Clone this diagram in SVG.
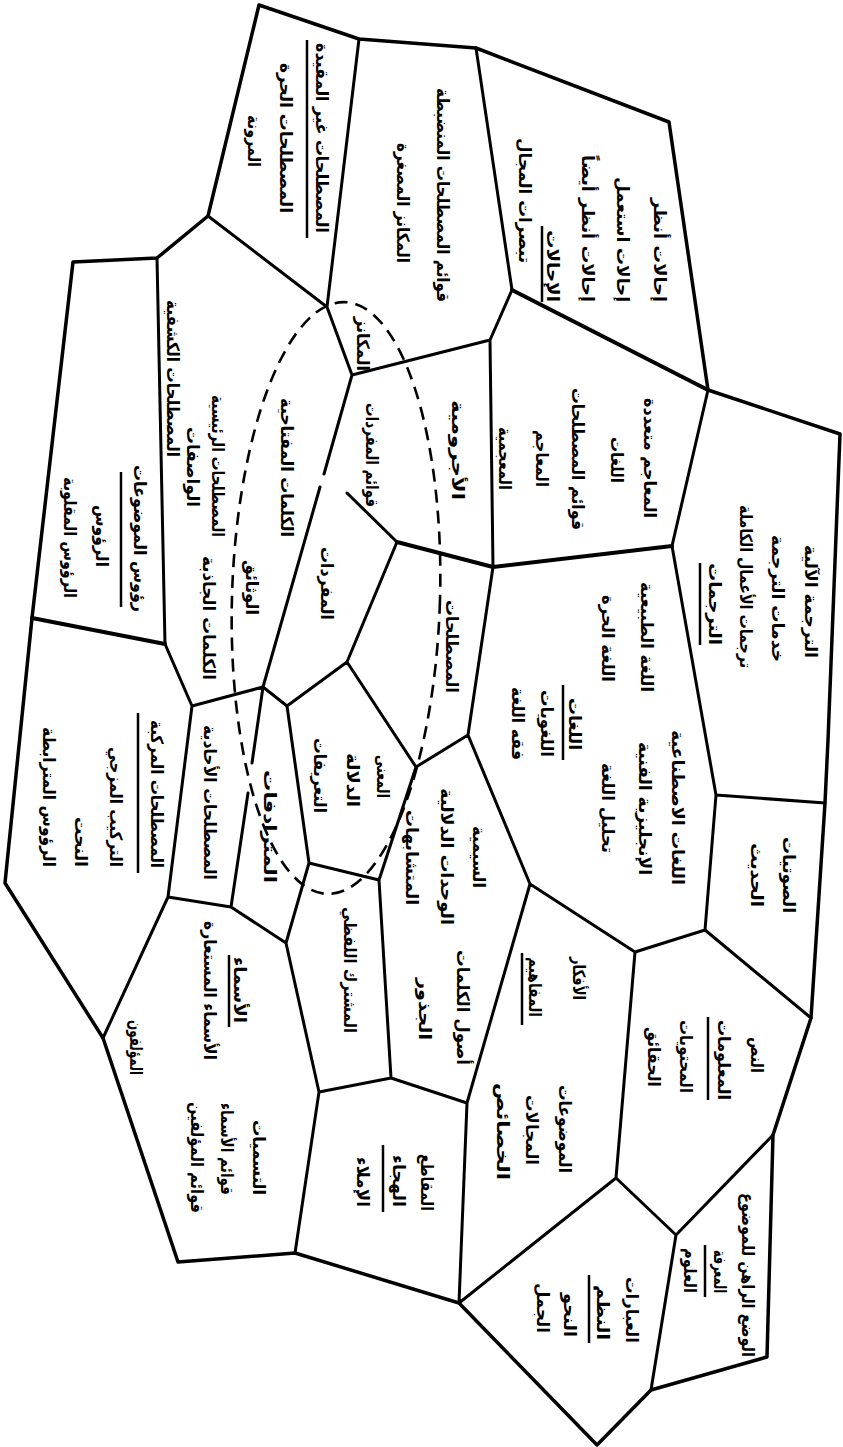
<svg xmlns="http://www.w3.org/2000/svg" width="843" height="1447" viewBox="0 0 843 1447">
<style>
.t{font-family:"DejaVu Sans",sans-serif;font-size:17px;font-weight:bold;fill:#000;text-anchor:middle;dominant-baseline:central}
.u{stroke:#000;stroke-width:2.5;fill:none}
.b{fill:none;stroke:#000;stroke-width:3;stroke-linejoin:round;stroke-linecap:round}
.o{stroke-width:3.5}
.k{stroke-width:4}
.e{fill:none;stroke:#000;stroke-width:2.6;stroke-dasharray:13 8}
</style>
<rect width="843" height="1447" fill="#fff"/>
<g id="connectors">
<path class="b o" d="M259,5 L359,39 L476,48 L669,122 L708,390 L840,434 L828,740 L825,803 L811,1018 L773,1135 L767,1357 L651,1390 L597,1445 L459,1303 L295,1253 L178,1262 L103,1038 L5,883 L32,618 L73,262 L157,258 L208,216 Z"/>
<path class="b" d="M359,39 L327,307 M476,48 L512,290 M512,290 L490,340 M490,340 L352,375 M490,340 L493,567 M208,216 L327,307 M327,307 L352,375 M157,258 L165,644 M165,644 L192,706 M192,706 L263,687 M352,375 L324,474 M320,487 L263,687 M263,687 L287,706 M287,706 L347,662 M347,662 L397,542 M347,493 L397,542 M672,546 L708,390 M672,546 L716,795 M493,567 L468,735 M468,735 L416,767 M347,662 L416,767 M468,735 L530,884 M530,884 L635,952 M635,952 L705,930 M705,930 L716,795 M716,795 L825,803 M705,930 L811,1018 M416,767 L379,880 M379,880 L309,863 M309,863 L287,706 M309,863 L286,943 M286,943 L231,907 M263,687 L252,763 M248,793 L231,907 M231,907 L168,897 M168,897 L192,706 M168,897 L103,1038 M379,880 L391,1078 M391,1078 L319,1092 M391,1078 L467,1103 M286,943 L319,1092 M319,1092 L295,1253 M530,884 L467,1103 M467,1103 L459,1303 M635,952 L616,1178 M616,1178 L459,1303 M616,1178 L676,1235 M676,1235 L773,1135 M676,1235 L651,1390"/>
<path class="b k" d="M512,290 L708,390 M32,618 L165,644 M397,542 L493,567 L672,546"/>
</g>
<g id="ellipse">
<ellipse class="e" cx="336" cy="598" rx="104" ry="296" transform="rotate(1.7 336 598)"/>
</g>
<g id="cell-references">
<text class="t" transform="translate(660,250) rotate(90)" textLength="104" lengthAdjust="spacingAndGlyphs">إحالات أنظر</text>
<text class="t" transform="translate(623,239.5) rotate(90)" textLength="125" lengthAdjust="spacingAndGlyphs">إحالات استعمل</text>
<text class="t" transform="translate(588,228.5) rotate(90)" textLength="147" lengthAdjust="spacingAndGlyphs">إحالات أنظر أيضاً</text>
<text class="t" transform="translate(553,266) rotate(90)" textLength="72" lengthAdjust="spacingAndGlyphs">الإحالات</text>
<line class="u" x1="542" y1="226" x2="542" y2="302"/>
<text class="t" transform="translate(525,200.5) rotate(90)" textLength="125" lengthAdjust="spacingAndGlyphs">تبصرات المجال</text>
</g>
<g id="cell-controlled">
<text class="t" transform="translate(443,195) rotate(90)" textLength="214" lengthAdjust="spacingAndGlyphs">قوائم المصطلحات المنضبطة</text>
<text class="t" transform="translate(403,203) rotate(90)" textLength="120" lengthAdjust="spacingAndGlyphs">المكانز المصغرة</text>
<text class="t" transform="translate(363,344) rotate(90)" textLength="54" lengthAdjust="spacingAndGlyphs">المكانز</text>
</g>
<g id="cell-uncontrolled">
<text class="t" transform="translate(322,138) rotate(90)" textLength="190" lengthAdjust="spacingAndGlyphs">المصطلحات غير المقيدة</text>
<line class="u" x1="307" y1="40" x2="307" y2="238"/>
<text class="t" transform="translate(286,138) rotate(90)" textLength="150" lengthAdjust="spacingAndGlyphs">المصطلحات الحرة</text>
<text class="t" transform="translate(254,141) rotate(90)" textLength="52" lengthAdjust="spacingAndGlyphs">المرونة</text>
</g>
<g id="cell-subject-headings">
<text class="t" transform="translate(140,538.5) rotate(90)" textLength="147" lengthAdjust="spacingAndGlyphs">رؤوس الموضوعات</text>
<line class="u" x1="121" y1="472" x2="121" y2="607"/>
<text class="t" transform="translate(102,536) rotate(90)" textLength="62" lengthAdjust="spacingAndGlyphs">الرؤوس</text>
<text class="t" transform="translate(70,537.5) rotate(90)" textLength="121" lengthAdjust="spacingAndGlyphs">الرؤوس المقلوبة</text>
</g>
<g id="cell-index-terms">
<text class="t" transform="translate(173,378.5) rotate(90)" textLength="157" lengthAdjust="spacingAndGlyphs">المصطلحات الكشفية</text>
<text class="t" transform="translate(218,466) rotate(90)" textLength="142" lengthAdjust="spacingAndGlyphs">المصطلحات الرئيسية</text>
<text class="t" transform="translate(193,467) rotate(90)" textLength="80" lengthAdjust="spacingAndGlyphs">الواصفات</text>
<text class="t" transform="translate(209,618) rotate(90)" textLength="124" lengthAdjust="spacingAndGlyphs">الكلمات الجاذبة</text>
<text class="t" transform="translate(252,587.5) rotate(90)" textLength="55" lengthAdjust="spacingAndGlyphs">الوثائق</text>
<text class="t" transform="translate(287,467.5) rotate(90)" textLength="139" lengthAdjust="spacingAndGlyphs">الكلمات المفتاحية</text>
</g>
<g id="cell-vocabulary">
<text class="t" transform="translate(372,455) rotate(90)" textLength="104" lengthAdjust="spacingAndGlyphs">قوائم المفردات</text>
<text class="t" transform="translate(327,583.5) rotate(90)" textLength="73" lengthAdjust="spacingAndGlyphs">المفردات</text>
</g>
<g id="cell-grammar">
<text class="t" transform="translate(458,450) rotate(90)" textLength="100" lengthAdjust="spacingAndGlyphs">الأجرومية</text>
</g>
<g id="cell-terms">
<text class="t" transform="translate(452,646.5) rotate(90)" textLength="93" lengthAdjust="spacingAndGlyphs">المصطلحات</text>
</g>
<g id="cell-dictionaries">
<text class="t" transform="translate(650,458) rotate(90)" textLength="120" lengthAdjust="spacingAndGlyphs">المعاجم متعددة</text>
<text class="t" transform="translate(617,460) rotate(90)" textLength="46" lengthAdjust="spacingAndGlyphs">اللغات</text>
<text class="t" transform="translate(578,459) rotate(90)" textLength="142" lengthAdjust="spacingAndGlyphs">قوائم المصطلحات</text>
<text class="t" transform="translate(542,458.5) rotate(90)" textLength="57" lengthAdjust="spacingAndGlyphs">المعاجم</text>
<text class="t" transform="translate(505,458.5) rotate(90)" textLength="63" lengthAdjust="spacingAndGlyphs">المعجمية</text>
</g>
<g id="cell-translation">
<text class="t" transform="translate(811,601.5) rotate(90)" textLength="113" lengthAdjust="spacingAndGlyphs">الترجمة الآلية</text>
<text class="t" transform="translate(778,598.5) rotate(90)" textLength="127" lengthAdjust="spacingAndGlyphs">خدمات الترجمة</text>
<text class="t" transform="translate(746,586.5) rotate(90)" textLength="163" lengthAdjust="spacingAndGlyphs">ترجمات الأعمال الكاملة</text>
<text class="t" transform="translate(715,604) rotate(90)" textLength="82" lengthAdjust="spacingAndGlyphs">الترجمات</text>
<line class="u" x1="700" y1="563" x2="700" y2="645"/>
</g>
<g id="cell-languages">
<text class="t" transform="translate(647,637) rotate(90)" textLength="110" lengthAdjust="spacingAndGlyphs">اللغة الطبيعية</text>
<text class="t" transform="translate(608,638.5) rotate(90)" textLength="87" lengthAdjust="spacingAndGlyphs">اللغة الحرة</text>
<text class="t" transform="translate(575,724) rotate(90)" textLength="52" lengthAdjust="spacingAndGlyphs">اللغات</text>
<line class="u" x1="563" y1="685" x2="563" y2="760"/>
<text class="t" transform="translate(547,723.5) rotate(90)" textLength="67" lengthAdjust="spacingAndGlyphs">اللغويات</text>
<text class="t" transform="translate(518,723.5) rotate(90)" textLength="73" lengthAdjust="spacingAndGlyphs">فقه اللغة</text>
<text class="t" transform="translate(678,807.5) rotate(90)" textLength="155" lengthAdjust="spacingAndGlyphs">اللغات الاصطناعية</text>
<text class="t" transform="translate(645,808.5) rotate(90)" textLength="133" lengthAdjust="spacingAndGlyphs">الإنجليزية الفنية</text>
<text class="t" transform="translate(608,808) rotate(90)" textLength="90" lengthAdjust="spacingAndGlyphs">تحليل اللغة</text>
</g>
<g id="cell-phonetics">
<text class="t" transform="translate(789,875) rotate(90)" textLength="76" lengthAdjust="spacingAndGlyphs">الصوتيات</text>
<text class="t" transform="translate(757,875) rotate(90)" textLength="64" lengthAdjust="spacingAndGlyphs">الحديث</text>
</g>
<g id="cell-semantics">
<text class="t" transform="translate(479,857) rotate(90)" textLength="62" lengthAdjust="spacingAndGlyphs">السيمية</text>
<text class="t" transform="translate(447,856.5) rotate(90)" textLength="137" lengthAdjust="spacingAndGlyphs">الوحدات الدلالية</text>
<text class="t" transform="translate(412,857.5) rotate(90)" textLength="95" lengthAdjust="spacingAndGlyphs">المتشابهات</text>
<text class="t" transform="translate(463,1007.5) rotate(90)" textLength="115" lengthAdjust="spacingAndGlyphs">أصول الكلمات</text>
<text class="t" transform="translate(425,1009) rotate(90)" textLength="62" lengthAdjust="spacingAndGlyphs">الجذور</text>
</g>
<g id="cell-meaning">
<text class="t" transform="translate(383,776.5) rotate(90)" textLength="43" lengthAdjust="spacingAndGlyphs">المعنى</text>
<text class="t" transform="translate(353,780) rotate(90)" textLength="54" lengthAdjust="spacingAndGlyphs">الدلالة</text>
<text class="t" transform="translate(320,775.5) rotate(90)" textLength="75" lengthAdjust="spacingAndGlyphs">التعريفات</text>
</g>
<g id="cell-synonyms">
<text class="t" transform="translate(270,826.5) rotate(90)" textLength="113" lengthAdjust="spacingAndGlyphs">المترادفات</text>
</g>
<g id="cell-uniterms">
<text class="t" transform="translate(210,802.5) rotate(90)" textLength="155" lengthAdjust="spacingAndGlyphs">المصطلحات الأحادية</text>
</g>
<g id="cell-compound">
<text class="t" transform="translate(157,794) rotate(90)" textLength="148" lengthAdjust="spacingAndGlyphs">المصطلحات المركبة</text>
<line class="u" x1="138" y1="713" x2="138" y2="873"/>
<text class="t" transform="translate(116,807) rotate(90)" textLength="120" lengthAdjust="spacingAndGlyphs">التركيب المزجي</text>
<text class="t" transform="translate(81,842) rotate(90)" textLength="50" lengthAdjust="spacingAndGlyphs">النحت</text>
<text class="t" transform="translate(49,797) rotate(90)" textLength="140" lengthAdjust="spacingAndGlyphs">الرؤوس المترابطة</text>
</g>
<g id="cell-homonyms">
<text class="t" transform="translate(350,970) rotate(90)" textLength="126" lengthAdjust="spacingAndGlyphs">المشترك اللفظي</text>
</g>
<g id="cell-names">
<text class="t" transform="translate(240,990) rotate(90)" textLength="66" lengthAdjust="spacingAndGlyphs">الأسماء</text>
<line class="u" x1="229" y1="955" x2="229" y2="1027"/>
<text class="t" transform="translate(210,990.5) rotate(90)" textLength="139" lengthAdjust="spacingAndGlyphs">الأسماء المستعارة</text>
<text class="t" transform="translate(136,1047.5) rotate(90)" textLength="55" lengthAdjust="spacingAndGlyphs">المؤلفون</text>
<text class="t" transform="translate(259,1157.5) rotate(90)" textLength="75" lengthAdjust="spacingAndGlyphs">التسميات</text>
<text class="t" transform="translate(227,1149) rotate(90)" textLength="92" lengthAdjust="spacingAndGlyphs">قوائم الأسماء</text>
<text class="t" transform="translate(197,1157.5) rotate(90)" textLength="111" lengthAdjust="spacingAndGlyphs">قوائم المؤلفين</text>
</g>
<g id="cell-spelling">
<text class="t" transform="translate(427,1182.5) rotate(90)" textLength="57" lengthAdjust="spacingAndGlyphs">المقاطع</text>
<text class="t" transform="translate(399,1181) rotate(90)" textLength="52" lengthAdjust="spacingAndGlyphs">الهجاء</text>
<line class="u" x1="383" y1="1145" x2="383" y2="1212"/>
<text class="t" transform="translate(363,1182) rotate(90)" textLength="50" lengthAdjust="spacingAndGlyphs">الإملاء</text>
</g>
<g id="cell-concepts">
<text class="t" transform="translate(579,978.5) rotate(90)" textLength="43" lengthAdjust="spacingAndGlyphs">الأفكار</text>
<text class="t" transform="translate(535,987) rotate(90)" textLength="60" lengthAdjust="spacingAndGlyphs">المفاهيم</text>
<line class="u" x1="522" y1="953" x2="522" y2="1025"/>
<text class="t" transform="translate(565,1129) rotate(90)" textLength="88" lengthAdjust="spacingAndGlyphs">الموضوعات</text>
<text class="t" transform="translate(532,1130) rotate(90)" textLength="70" lengthAdjust="spacingAndGlyphs">المجالات</text>
<text class="t" transform="translate(503,1131.5) rotate(90)" textLength="97" lengthAdjust="spacingAndGlyphs">الخصائص</text>
</g>
<g id="cell-information">
<text class="t" transform="translate(757,1055) rotate(90)" textLength="36" lengthAdjust="spacingAndGlyphs">النص</text>
<text class="t" transform="translate(724,1060) rotate(90)" textLength="80" lengthAdjust="spacingAndGlyphs">المعلومات</text>
<line class="u" x1="708" y1="1017" x2="708" y2="1100"/>
<text class="t" transform="translate(686,1056.5) rotate(90)" textLength="73" lengthAdjust="spacingAndGlyphs">المحتويات</text>
<text class="t" transform="translate(654,1057) rotate(90)" textLength="60" lengthAdjust="spacingAndGlyphs">الحقائق</text>
</g>
<g id="cell-syntax">
<text class="t" transform="translate(632,1310) rotate(90)" textLength="66" lengthAdjust="spacingAndGlyphs">العبارات</text>
<text class="t" transform="translate(603,1312.5) rotate(90)" textLength="55" lengthAdjust="spacingAndGlyphs">النظم</text>
<line class="u" x1="589" y1="1275" x2="589" y2="1343"/>
<text class="t" transform="translate(570,1315) rotate(90)" textLength="44" lengthAdjust="spacingAndGlyphs">النحو</text>
<text class="t" transform="translate(543,1308) rotate(90)" textLength="50" lengthAdjust="spacingAndGlyphs">الجمل</text>
</g>
<g id="cell-knowledge">
<text class="t" transform="translate(748,1275) rotate(90)" textLength="164" lengthAdjust="spacingAndGlyphs">الوضع الراهن للموضوع</text>
<text class="t" transform="translate(720,1271.5) rotate(90)" textLength="43" lengthAdjust="spacingAndGlyphs">المعرفة</text>
<line class="u" x1="705" y1="1245" x2="705" y2="1297"/>
<text class="t" transform="translate(690,1270.5) rotate(90)" textLength="45" lengthAdjust="spacingAndGlyphs">العلوم</text>
</g>
</svg>
